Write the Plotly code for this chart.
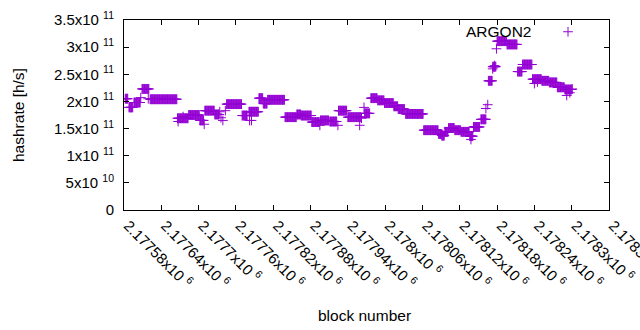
import plotly.graph_objects as go

# runs of blocks sharing one hashrate value (start block, end block, hashrate)
run_start = [2177582, 2177588, 2177596, 2177609, 2177622, 2177666, 2177684, 2177702,
             2177710, 2177726, 2177745, 2177770, 2177781, 2177797, 2177804, 2177811,
             2177839, 2177858, 2177865, 2177882, 2177896, 2177911, 2177925, 2177940,
             2177967, 2177977, 2177988, 2177999, 2178014, 2178021, 2178033, 2178062,
             2178086, 2178091, 2178096, 2178102, 2178112, 2178122, 2178136, 2178142,
             2178154, 2178166, 2178173, 2178180, 2178196, 2178213, 2178221, 2178237,
             2178252, 2178264, 2178277, 2178289]
run_end = [2177586, 2177594, 2177606, 2177620, 2177665, 2177683, 2177701, 2177708,
           2177725, 2177733, 2177769, 2177778, 2177796, 2177803, 2177810, 2177838,
           2177857, 2177864, 2177881, 2177894, 2177909, 2177922, 2177938, 2177961,
           2177975, 2177987, 2177998, 2178013, 2178020, 2178031, 2178061, 2178085,
           2178090, 2178095, 2178101, 2178111, 2178121, 2178135, 2178141, 2178152,
           2178162, 2178172, 2178178, 2178195, 2178212, 2178220, 2178236, 2178251,
           2178263, 2178276, 2178288, 2178300]
run_value = [2.05e11, 1.89e11, 1.98e11, 2.23e11, 2.04e11, 1.69e11, 1.75e11, 1.65e11,
             1.83e11, 1.76e11, 1.95e11, 1.74e11, 1.81e11, 2.06e11, 1.96e11, 2.03e11,
             1.71e11, 1.76e11, 1.74e11, 1.62e11, 1.65e11, 1.63e11, 1.83e11, 1.71e11,
             1.78e11, 2.06e11, 2.02e11, 1.97e11, 1.91e11, 1.86e11, 1.77e11, 1.47e11,
             1.40e11, 1.37e11, 1.44e11, 1.51e11, 1.47e11, 1.44e11, 1.36e11, 1.53e11,
             1.67e11, 2.38e11, 2.64e11, 3.11e11, 3.05e11, 2.55e11, 2.68e11, 2.41e11,
             2.38e11, 2.35e11, 2.26e11, 2.22e11]

# single blocks off the runs
single_block = [2177607, 2177619, 2177667, 2177675, 2177709, 2177734, 2177736, 2177739,
                2177743, 2177782, 2177785, 2177895, 2177924, 2177959, 2177962, 2177966,
                2178138, 2178162, 2178165, 2178173, 2178176, 2178179, 2178240, 2178245,
                2178292, 2178297, 2178301]
single_value = [2.07e11, 2.05e11, 1.63e11, 1.72e11, 1.58e11, 1.81e11, 1.70e11, 1.65e11,
                1.83e11, 1.65e11, 1.65e11, 1.56e11, 1.56e11, 1.56e11, 1.69e11, 1.89e11,
                1.30e11, 1.87e11, 1.94e11, 2.60e11, 2.66e11, 2.97e11, 2.33e11, 2.36e11,
                2.11e11, 2.16e11, 2.23e11]

x_tickvals = [2177580, 2177640, 2177700, 2177760, 2177820, 2177880, 2177940,
              2178000, 2178060, 2178120, 2178180, 2178240, 2178300, 2178360]
x_ticktext = ["2.17758x10\u00a0<sup>6</sup>", "2.17764x10\u00a0<sup>6</sup>", "2.1777x10\u00a0<sup>6</sup>",
              "2.17776x10\u00a0<sup>6</sup>", "2.17782x10\u00a0<sup>6</sup>", "2.17788x10\u00a0<sup>6</sup>",
              "2.17794x10\u00a0<sup>6</sup>", "2.178x10\u00a0<sup>6</sup>", "2.17806x10\u00a0<sup>6</sup>",
              "2.17812x10\u00a0<sup>6</sup>", "2.17818x10\u00a0<sup>6</sup>", "2.17824x10\u00a0<sup>6</sup>",
              "2.1783x10\u00a0<sup>6</sup>", "2.17836x10\u00a0<sup>6</sup>"]
y_tickvals = [0, 5e10, 1e11, 1.5e11, 2e11, 2.5e11, 3e11, 3.5e11]
y_ticktext = ["0", "5x10\u00a0<sup>10</sup>", "1x10\u00a0<sup>11</sup>", "1.5x10\u00a0<sup>11</sup>",
              "2x10\u00a0<sup>11</sup>", "2.5x10\u00a0<sup>11</sup>", "3x10\u00a0<sup>11</sup>",
              "3.5x10\u00a0<sup>11</sup>"]

xs, ys = [], []
for s, e, v in zip(run_start, run_end, run_value):
    for b in range(s, e + 1):
        xs.append(b)
        ys.append(v)
xs += single_block
ys += single_value

COLOR = "#9400D3"
FONT = "Liberation Sans, Arial, sans-serif"

fig = go.Figure()
fig.add_trace(go.Scatter(
    x=xs, y=ys, mode="markers", name="",
    marker=dict(symbol="cross-thin", size=7, color=COLOR, line=dict(color=COLOR, width=1)),
    showlegend=True,
))

L, R, T, B = 124, 31, 20, 120
W, H = 640, 330
pw = W - L - R
ph = H - T - B

def px(x):
    return (x - L) / pw

def py(y):
    return (H - B - y) / ph

axis_common = dict(showline=True, linecolor="black", linewidth=1, mirror="ticks",
                   ticks="inside", ticklen=5, tickcolor="black", tickwidth=1,
                   showgrid=False, zeroline=False,
                   tickfont=dict(family=FONT, size=15, color="black"))

fig.update_xaxes(range=[2177580, 2178360], tickmode="array", tickvals=x_tickvals,
                 ticktext=x_ticktext, tickangle=45, ticklabelshift=4,
                 ticklabeloverflow="allow", **axis_common)
fig.update_yaxes(range=[0, 3.5e11], tickmode="array", tickvals=y_tickvals,
                 ticktext=y_ticktext, ticklabelstandoff=6, **axis_common)

fig.add_annotation(text="block number", xref="paper", yref="paper", x=px(364), y=py(315),
                   showarrow=False, font=dict(family=FONT, size=15.5, color="black"),
                   xanchor="center", yanchor="middle")
fig.add_annotation(text="hashrate [h/s]", xref="paper", yref="paper", x=px(18), y=py(115),
                   showarrow=False, textangle=-90, font=dict(family=FONT, size=15.5, color="black"),
                   xanchor="center", yanchor="middle")
fig.add_annotation(text="ARGON2", xref="paper", yref="paper", x=px(533), y=py(32),
                   showarrow=False, font=dict(family=FONT, size=15.5, color="black"),
                   xanchor="right", yanchor="middle")

fig.update_layout(
    width=W, height=H, margin=dict(l=L, r=R, t=T, b=B, autoexpand=False),
    paper_bgcolor="white", plot_bgcolor="white",
    legend=dict(x=px(548), y=py(32), xanchor="left", yanchor="middle",
                bgcolor="rgba(0,0,0,0)", borderwidth=0, itemwidth=30,
                font=dict(family=FONT, size=15, color="black")),
)

fig.write_html("out.html", config={"displayModeBar": False},
               post_script="document.body.style.margin='0';document.body.style.overflow='hidden';")
